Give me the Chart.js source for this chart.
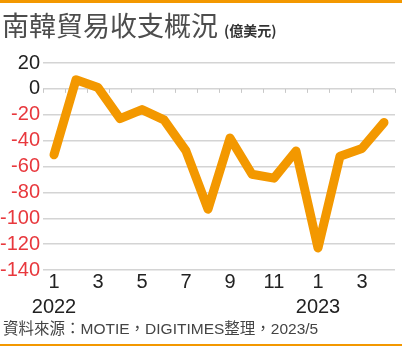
<!DOCTYPE html>
<html><head><meta charset="utf-8">
<script src="https://cdn.jsdelivr.net/npm/chart.js@4"></script>
<style>
html,body{margin:0;padding:0;background:#fff;}
#wrap{position:relative;width:402px;height:347px;overflow:hidden;font-family:"Liberation Sans",Arial,sans-serif;}
#topbar{position:absolute;left:0;top:0;width:402px;height:3px;background:#F39800;}
#botbar{position:absolute;left:0;top:344px;width:402px;height:2px;background:#F39800;}
#title{position:absolute;left:2px;top:8px;font-size:27px;color:#4d4d4d;font-family:"Noto Sans CJK TC","Liberation Sans",sans-serif;line-height:34px;white-space:nowrap;}
#title span{font-size:14px;font-weight:bold;color:#333;}
#src{position:absolute;left:3px;top:319px;font-size:15.5px;color:#444;font-family:"Liberation Sans","Noto Sans CJK TC",sans-serif;white-space:nowrap;line-height:20px;}
#cv{position:absolute;left:0;top:0;}
</style></head>
<body><div id="wrap">
<canvas id="cv" width="402" height="347"></canvas>
<div id="topbar"></div>
<div id="title">南韓貿易收支概況 <span>(億美元)</span></div>
<div id="src">資料來源：MOTIE，DIGITIMES整理，2023/5</div>
<div id="botbar"></div>
</div>
<script>
const months = ['1','2','3','4','5','6','7','8','9','10','11','12','1','2','3','4'];
const years = {0:'2022', 12:'2023'};
const balance = [-51, 7, 1, -23, -16, -24, -48, -93, -38, -66, -69, -48, -123, -52, -46, -26];
const yTicks = [20, 0, -20, -40, -60, -80, -100, -120, -140];

const zeroTicks = {
  id:'zeroTicks',
  afterDraw(chart){
    const x = chart.scales.x, y = chart.scales.y, ctx = chart.ctx;
    const y0 = y.getPixelForValue(0);
    const half = (x.getPixelForValue(1) - x.getPixelForValue(0)) / 2;
    ctx.save();
    ctx.strokeStyle = '#c8c8c8'; ctx.lineWidth = 1;
    for (let i = 0; i <= months.length; i++) {
      const px = Math.round(x.getPixelForValue(i) - half) + 0.5;
      ctx.beginPath(); ctx.moveTo(px, y0); ctx.lineTo(px, y0 + 4); ctx.stroke();
    }
    ctx.restore();
  }
};

new Chart(document.getElementById('cv'), {
  type: 'line',
  data: {
    labels: months.map((m,i)=> years[i] ? [m, years[i]] : m),
    datasets: [{
      data: balance,
      borderColor: '#F39800',
      borderWidth: 9,
      pointRadius: 0,
      borderCapStyle: 'round',
      borderJoinStyle: 'round',
      tension: 0
    }]
  },
  options: {
    responsive: false,
    animation: false,
    devicePixelRatio: 1,
    layout: { padding: { left: 0, right: 7, top: 63, bottom: 18 } },
    plugins: { legend: { display: false }, tooltip: { enabled: false }, title: { display: false } },
    scales: {
      x: {
        offset: true,
        grid: { display: false, drawTicks: false },
        border: { display: false },
        ticks: {
          padding: 0,
          maxRotation: 0,
          autoSkip: false,
          color: '#222',
          font: { size: 20, family: '"Liberation Sans", Arial, sans-serif', lineHeight: 1.25 },
          callback: function(v, i){ return i % 2 === 0 ? this.chart.data.labels[i] : ''; }
        },
        afterFit(s){ s.height = 59; }
      },
      y: {
        min: -140, max: 20,
        afterBuildTicks(s){ s.ticks = yTicks.map(v=>({value:v})); },
        grid: { color: '#d4d4d4', lineWidth: 1.5, drawTicks: false },
        border: { display: false },
        ticks: {
          padding: 3,
          autoSkip: false,
          color: (c)=> c.tick.value < 0 ? '#E8383D' : '#222',
          font: { size: 20, family: '"Liberation Sans", Arial, sans-serif' }
        },
        afterFit(s){ s.width = 43; }
      }
    }
  },
  plugins: [zeroTicks]
});
</script>
</body></html>
